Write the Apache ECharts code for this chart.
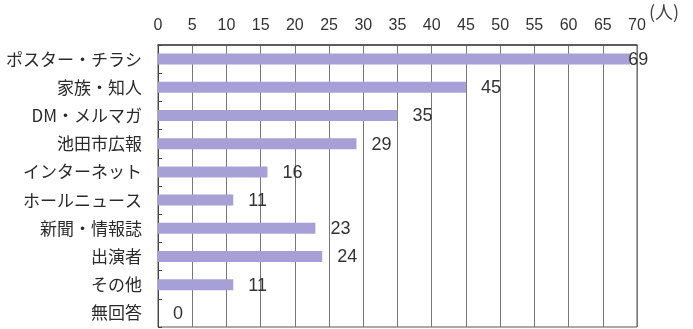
<!DOCTYPE html>
<html><head><meta charset="utf-8">
<script src="https://cdn.jsdelivr.net/npm/echarts@6/dist/echarts.min.js"></script>
<style>html,body{margin:0;padding:0;background:#fff}#c{width:693px;height:329px}</style>
</head><body><div id="c"></div>
<script>
const categories = ["ポスター・チラシ","家族・知人","DM・メルマガ","池田市広報","インターネット","ホールニュース","新聞・情報誌","出演者","その他","無回答"];
const values = [69,45,35,29,16,11,23,24,11,0];
const xTicks = [0,5,10,15,20,25,30,35,40,45,50,55,60,65,70];
const unitLabel = "(人)";

const chart = echarts.init(document.getElementById('c'));
const cjk = '"Noto Sans CJK JP", sans-serif';
const num = '"Liberation Sans", Arial, sans-serif';
chart.setOption({
  animation: false,
  grid: {left: 158, right: 56, top: 45, bottom: 2, containLabel: false,
         show: true, borderColor: '#555', borderWidth: 1},
  graphic: [{type:'text', left: 649, top: 3, style:{text: unitLabel, font: '18px ' + cjk, fill:'#444'}}],
  xAxis: {
    type: 'value', position: 'top', min: xTicks[0], max: xTicks[xTicks.length-1], interval: 5,
    axisLine: {show: true, lineStyle: {color: '#444', width: 1.5}},
    axisTick: {show: false},
    splitLine: {show: true, lineStyle: {color: '#777', width: 1}},
    axisLabel: {color: '#333', fontSize: 16, fontFamily: num, margin: 11}
  },
  yAxis: {
    type: 'category', inverse: true, data: categories,
    axisLine: {show: true, lineStyle: {color: '#444', width: 1}},
    axisTick: {show: true, inside: true, length: 4, lineStyle: {color: '#444'}},
    axisLabel: {color: '#2a2a2a', fontSize: 17, fontFamily: cjk, margin: 16}
  },
  series: [{
    type: 'bar', data: values.map((v) => ({value: v, label: {offset: v >= 65 ? [-17, 1] : [0, 1]}})),
    barWidth: 11,
    itemStyle: {color: '#a6a0d6'},
    label: {show: true, position: 'right', distance: 15, color: '#333', fontSize: 18, fontFamily: num}
  }]
});
</script></body></html>
